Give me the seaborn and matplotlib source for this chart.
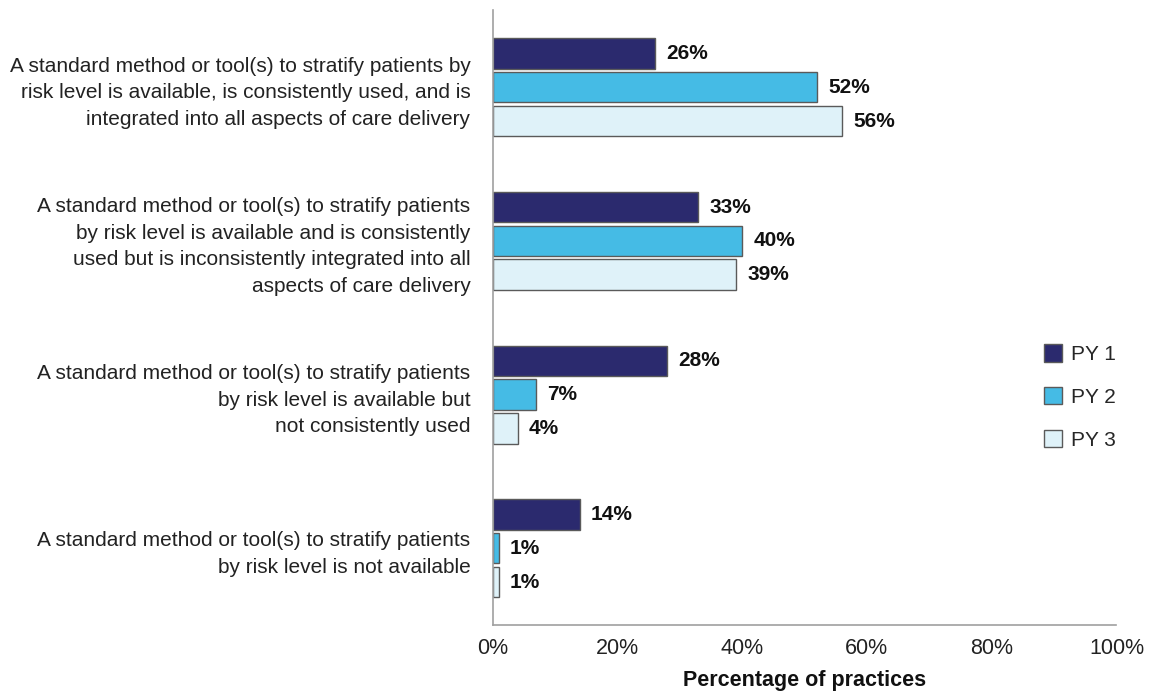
import matplotlib
matplotlib.use("Agg")
import matplotlib.pyplot as plt
import seaborn as sns
import pandas as pd
from matplotlib.patches import Patch
from matplotlib.ticker import FuncFormatter

categories = [
    "A standard method or tool(s) to stratify patients by\nrisk level is available, is consistently used, and is\nintegrated into all aspects of care delivery",
    "A standard method or tool(s) to stratify patients\nby risk level is available and is consistently\nused but is inconsistently integrated into all\naspects of care delivery",
    "A standard method or tool(s) to stratify patients\nby risk level is available but\nnot consistently used",
    "A standard method or tool(s) to stratify patients\nby risk level is not available",
]
series = ["PY 1", "PY 2", "PY 3"]
py1 = [26, 33, 28, 14]
py2 = [52, 40, 7, 1]
py3 = [56, 39, 4, 1]
colors = ["#2B2A6E", "#45BBE5", "#DFF2F9"]
xticks = [0, 20, 40, 60, 80, 100]

rows = []
for s, vals in zip(series, [py1, py2, py3]):
    for c, v in zip(categories, vals):
        rows.append({"category": c, "series": s, "value": v})
df = pd.DataFrame(rows)

sns.set_theme(style="white")
plt.rcParams["font.family"] = ["Liberation Sans", "DejaVu Sans"]

fig = plt.figure(figsize=(11.51, 6.93), dpi=100)
ax = fig.add_axes([0.428, 0.098, 0.542, 0.887])

sns.barplot(data=df, x="value", y="category", hue="series", orient="h",
            palette=colors, hue_order=series, order=categories, saturation=1,
            width=0.66, gap=0.1, edgecolor="#5a5a5a", linewidth=1.0,
            legend=False, ax=ax, errorbar=None)

for cont in ax.containers:
    ax.bar_label(cont, labels=[f"{int(round(b.get_width()))}%" for b in cont],
                 padding=8, fontsize=15, fontweight="bold", color="#111111")

ax.set_xlim(0, 100)
ax.set_ylim(3.5, -0.5)
ax.set_xticks(xticks)
ax.xaxis.set_major_formatter(FuncFormatter(lambda v, p: f"{int(v)}%"))
ax.tick_params(axis="x", labelsize=15.5, colors="#222222", direction="in",
               length=5, width=1.2, color="#a0a0a0", pad=9)
ax.tick_params(axis="y", labelsize=15, length=0, pad=16, colors="#222222")
for lab in ax.get_yticklabels():
    lab.set_horizontalalignment("right")
    lab.set_linespacing(1.5)
ax.set_ylabel("")
ax.set_xlabel("Percentage of practices", fontsize=15.5, fontweight="bold",
              color="#111111", labelpad=8)
for sp in ["top", "right"]:
    ax.spines[sp].set_visible(False)
for sp in ["left", "bottom"]:
    ax.spines[sp].set_color("#a0a0a0")
    ax.spines[sp].set_linewidth(1.2)

handles = [Patch(facecolor=c, edgecolor="#5a5a5a", label=s) for c, s in zip(colors, series)]
fig.legend(handles=handles, loc="center", bbox_to_anchor=(0.938, 0.427),
           frameon=False, fontsize=15, handlelength=0.9, handleheight=0.9,
           handletextpad=0.4, labelspacing=1.1)

fig.savefig("out.png", dpi=100)
